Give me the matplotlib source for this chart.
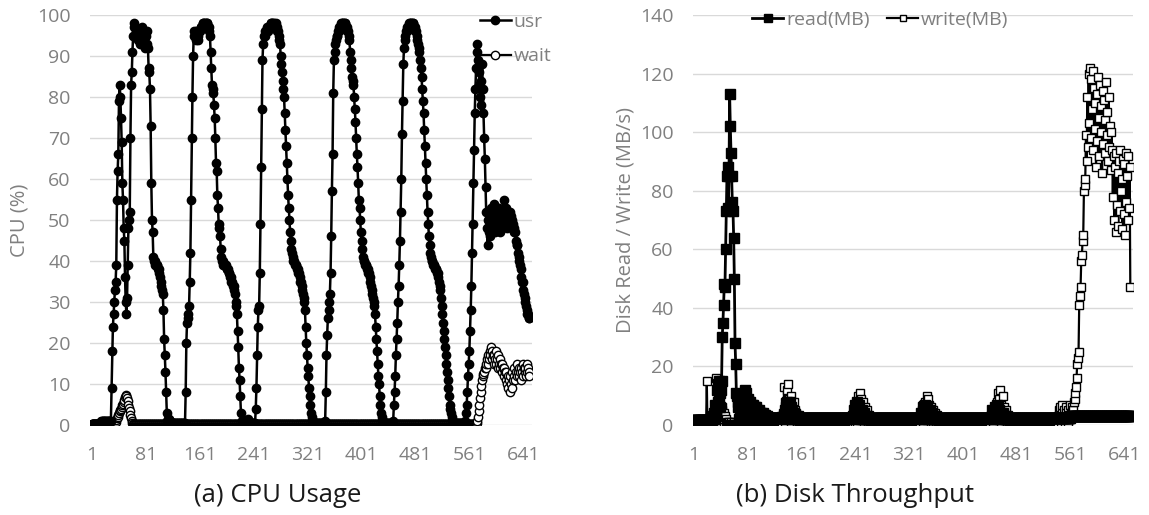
import matplotlib.pyplot as plt
import numpy as np

plt.rcParams['font.family'] = ['Open Sans', 'DejaVu Sans']

# ---- (a) CPU usage, one value per sample ----
usr = ([0.2] * 14 + [1.0] * 15
       + [9, 18, 24, 27, 30, 33, 35, 39, 55, 62, 66, 79, 83]
       + [80, 75, 69, 59, 55, 48, 45, 36, 30, 27]
       + [31, 39, 48, 50, 52, 70, 83, 86, 91, 95]
       + [98, 97, 97, 96, 95, 96, 94, 95, 96, 93, 95, 96, 97, 95, 96, 94, 92, 96, 95, 96, 93, 92]
       + [87, 86, 82, 73, 59, 50, 47, 41, 40]
       + [40, 39, 39, 39, 39, 38, 38, 37, 36, 35, 34, 33, 32, 28]
       + [21, 17, 13, 8, 3, 1]
       + [1.5, 1.5, 1.0, 1.0] + [0.5] * 22
       + [8, 20, 25, 26, 27, 29, 35, 42, 55, 70, 80, 90, 95, 96]
       + [95, 94, 96, 95, 94, 95, 96, 96, 97, 97, 97, 98, 98, 98, 98, 97, 98, 98, 98, 97, 97, 96, 95]
       + [91, 87, 83, 82, 81, 78, 75, 70, 64, 62, 56, 53, 49, 48, 46, 43, 41, 40, 40]
       + [39, 39, 39, 39, 39, 38, 38, 38, 37, 37, 36, 36, 35, 35, 34, 34, 33, 32, 30, 29, 27]
       + [23, 19, 14, 11, 7, 3, 1, 1]
       + [0.5] * 7 + [1.5, 1.0] + [0.5] * 10
       + [4, 9, 17, 24, 28, 29, 37, 49, 63, 77, 89, 93, 95]
       + [96, 95, 96, 96, 97, 96, 97, 97, 97, 98, 98, 98, 98, 97, 98, 97, 97, 98, 97, 96, 96, 95, 94, 93]
       + [90, 88, 86, 84, 82, 80, 76, 72, 68, 64, 60, 56, 53, 50, 47, 45, 43, 42, 41]
       + [40, 40, 39, 39, 39, 38, 38, 37, 37, 36, 35, 35, 34, 33, 32, 31, 30, 28]
       + [24, 20, 17, 14, 12, 9, 7, 5, 3, 2, 1, 1]
       + [0.5] * 17
       + [1, 8, 17, 22, 26, 28, 30, 32, 37, 46, 57, 66, 81, 89, 91]
       + [93, 94, 95, 95, 96, 96, 97, 97, 97, 98, 98, 98, 98, 97, 98, 98, 97, 97, 96, 96, 95, 94]
       + [91, 89, 87, 85, 84, 83, 80, 77, 74, 70, 66, 63, 59, 55, 53, 50, 47, 45, 43]
       + [41, 40, 40, 39, 39, 39, 38, 38, 37, 37, 36, 35, 34, 33, 32, 31, 30, 29, 27]
       + [24, 21, 18, 15, 12, 10, 7, 5, 3, 2, 1, 1]
       + [0.5] * 14
       + [1, 5, 8, 12, 17, 21, 25, 30, 34, 39, 45, 52, 60, 71, 79, 88]
       + [92, 94, 95, 96, 96, 97, 97, 97, 98, 98, 98, 98, 97, 98, 98, 97, 97, 96, 96, 95, 94, 93, 92, 91, 89]
       + [87, 85, 82, 79, 76, 72, 68, 64, 60, 56, 52, 49, 46, 44, 42, 41, 40, 40]
       + [39, 39, 39, 38, 38, 38, 37, 37, 36, 35, 34, 33, 31, 29, 27, 25]
       + [23, 21, 19, 17, 15, 13, 11, 9, 7, 5, 4, 3, 2, 1, 1]
       + [0.5] * 17
       + [1, 3, 5, 8, 12, 15, 18, 23, 28, 34, 42, 49, 59, 67, 76, 82, 87, 93]
       + [91, 89, 86, 83, 80, 78, 84, 88, 82, 76, 70, 65, 58, 52, 48]
       + [44, 50, 47, 52, 46, 53, 49, 51, 48, 54, 50, 47, 52, 49, 51, 48, 50, 53, 47, 51,
          49, 52, 48, 50, 55, 51, 49, 53, 50, 48, 52, 51, 49, 52, 50, 51, 48, 50, 49]
       + [48, 47, 47, 45, 44, 44, 42, 41, 40, 39, 38, 36, 35, 35, 33, 32, 31, 30, 29, 28, 27, 27, 26, 26])

wait = ([0.2] * 34
        + [0.4, 0.8, 1.2, 1.6, 2.0, 2.5, 3.0, 3.3, 3.6, 4.0, 4.4, 4.8, 5.2, 5.6, 6.2, 6.8, 7.3,
           7.0, 6.5, 5.8, 5.0, 4.2, 3.4, 2.5, 1.6, 0.9, 0.4]
        + [0.2] * 510
        + [0.5, 1, 2, 3.5, 5, 6.5, 8, 9.5, 11, 12, 12.5, 13, 14]
        + [14, 15, 16, 15, 17, 16, 18, 17, 19, 16, 18, 17, 15, 17, 16, 18, 15, 16, 14, 17,
           15, 16, 14, 15, 13, 15, 14, 12, 14, 13, 11, 13, 10, 12, 9, 11, 8, 12, 10, 13,
           9, 11, 12, 14, 11, 13, 12, 15, 13, 14, 12, 13, 11, 14, 13, 15, 12, 14, 13, 14,
           12, 15, 13, 14, 13, 12])

# ---- (b) Disk throughput (MB/s) ----
read_mb = ([1.8] * 28
           + [3, 2, 4, 7, 3, 5, 12, 8, 14, 15, 11, 6, 12]
           + [15, 30, 35, 41, 48, 47, 60, 73, 85, 88, 74, 85, 113, 102, 93, 85, 76, 73, 64, 50,
              28, 21, 11, 10, 8, 6]
           + [2, 5, 1, 7, 2, 9, 1, 10, 3, 12, 2, 11, 3, 9, 2, 8, 3, 8, 2, 7,
              3, 7, 2, 6, 3, 6, 2, 5, 3, 5, 2, 4, 3, 4, 2, 4, 3, 3.5, 2.5, 3.5, 2.5, 3, 2.5]
           + [2.5] * 24
           + [3, 5, 2, 6, 8, 4, 7, 3, 5, 8, 6, 3, 5, 2, 4, 3, 2, 3, 2.5, 2, 3, 2, 2.5, 2, 2.5, 2]
           + [2.5] * 77
           + [3, 5, 2, 7, 4, 8, 3, 6, 5, 7, 3, 4, 2, 5, 3, 2, 4, 2, 3, 2, 2.5, 2, 3, 2, 2.5, 2, 2.5, 2]
           + [2.5] * 72
           + [2, 4, 3, 6, 2, 5, 7, 3, 5, 4, 6, 2, 4, 3, 5, 2, 3, 4, 2, 3,
              2, 2.5, 2, 3, 2, 2.5, 2, 2.5, 2, 2.5]
           + [2.5] * 75
           + [2, 3, 5, 2, 4, 6, 3, 5, 7, 4, 6, 3, 5, 2, 4, 3, 2, 4, 2, 3,
              2, 2.5, 2, 3, 2, 2.5, 2, 2.5, 2, 2.5]
           + [2.5] * 88
           + [3.0] * 90)

write_mb = ([0.5] * 19
            + [15, 0.5, 1, 0.5, 2, 0.5, 1, 0.5, 0.5]
            + [3, 1, 2, 5, 1, 16, 4, 10, 6, 3, 8, 5, 2]
            + [6, 5, 3, 4, 2, 3, 1, 2, 1, 1, 0.5, 1, 0.5, 0.5, 1, 0.5, 0.5, 0.5, 1, 0.5,
               0.5, 0.5, 0.5, 0.5, 0.5, 0.5]
            + [0.5] * 62
            + [1, 3, 0.5, 4, 2, 13, 1, 8, 3, 12, 5, 14, 2, 9, 4, 10, 1, 6, 3, 8,
               2, 5, 3, 4, 1, 3, 2, 0.5, 1, 0.5, 0.5]
            + [0.5] * 77
            + [1, 3, 0.5, 6, 2, 8, 1, 10, 4, 7, 11, 3, 9, 2, 5, 8, 1, 4, 6, 2,
               3, 5, 1, 2, 3, 1, 2, 0.5, 1, 0.5, 0.5]
            + [0.5] * 66
            + [1, 2, 0.5, 4, 2, 5, 1, 7, 3, 6, 8, 2, 10, 4, 9, 3, 7, 5, 2, 6,
               4, 1, 5, 3, 2, 4, 1, 2, 3, 1, 0.5, 1, 0.5, 0.5]
            + [0.5] * 72
            + [1, 0.5, 3, 2, 5, 1, 4, 6, 2, 5, 8, 3, 11, 4, 9, 12, 2, 7, 5, 10,
               3, 6, 2, 4, 5, 1, 3, 2, 1, 2, 0.5, 1, 0.5, 0.5]
            + [0.5] * 66
            + [1, 3, 0.5, 5, 2, 6, 1, 4, 7, 2, 5, 3, 1, 6, 4, 2, 5, 1, 3, 7, 2, 4, 6, 3, 5, 8]
            + [9, 11, 13, 16, 21, 23, 25, 41, 44, 47, 56, 58, 63, 65, 80, 82]
            + [84, 99, 90, 112, 95, 120, 103, 122, 98, 118, 108, 121, 94, 115, 101, 110, 88, 113, 97, 119,
               105, 92, 116, 100, 109, 86, 114, 96, 111, 104, 93, 117, 99, 107, 90, 112, 95, 102, 87, 100]
            + [94, 78, 92, 70, 88, 66, 93, 75, 86, 68, 90, 73, 94, 80, 84, 67, 91, 72, 89, 65,
               93, 76, 85, 70, 92, 74, 88]
            + [47])

xticks = [1, 81, 161, 241, 321, 401, 481, 561, 641]
gray = '#808080'
grid_c = '#d9d9d9'

fig = plt.figure(figsize=(11.49, 5.15), dpi=100)
ax1 = fig.add_axes([90 / 1149, 90 / 515, 442 / 1149, 410 / 515])
ax2 = fig.add_axes([693 / 1149, 90 / 515, 440 / 1149, 410 / 515])


def style(ax, ymax, ystep, xlim):
    for s in ax.spines.values():
        s.set_visible(False)
    ax.set_ylim(0, ymax)
    ax.set_yticks(np.arange(0, ymax + 1, ystep))
    ax.set_xlim(*xlim)
    ax.set_xticks(xticks)
    ax.grid(axis='y', color=grid_c, linewidth=1)
    ax.set_axisbelow(True)
    ax.tick_params(length=0, labelsize=14, labelcolor=gray)
    ax.tick_params(axis='y', pad=14)
    ax.tick_params(axis='x', pad=15)


x1 = np.arange(1, len(usr) + 1)
ax1.plot(np.arange(1, len(wait) + 1), wait, color='black', lw=1.6, marker='o', ms=6,
         mfc='white', mec='black', mew=1.0, label='wait', zorder=2)
ax1.plot(x1, usr, color='black', lw=1.8, marker='o', ms=6, mfc='black', mec='black',
         label='usr', zorder=3)
style(ax1, 100, 10, (-2, 654))
ax1.set_ylabel('CPU (%)', color=gray, fontsize=14.5, labelpad=5)
h, l = ax1.get_legend_handles_labels()
ax1.legend(h[::-1], l[::-1], loc='upper left', bbox_to_anchor=(0.882, 1.005), frameon=False,
           fontsize=14, labelcolor=gray, handlelength=1.6, handletextpad=0.15,
           labelspacing=0.85, borderaxespad=0, borderpad=0)

x2 = np.arange(1, len(read_mb) + 1)
ax2.plot(np.arange(1, len(write_mb) + 1), write_mb, color='black', lw=1.6, marker='s', ms=5.5,
         mfc='white', mec='black', mew=1.0, label='write(MB)', zorder=2)
ax2.plot(x2, read_mb, color='black', lw=2.0, marker='s', ms=6.5, mfc='black', mec='black',
         label='read(MB)', zorder=3)
style(ax2, 140, 20, (-0.5, 654))
ax2.set_ylabel('Disk Read / Write (MB/s)', color=gray, fontsize=14.5, labelpad=3)
h, l = ax2.get_legend_handles_labels()
ax2.legend(h[::-1], l[::-1], loc='upper left', bbox_to_anchor=(0.134, 1.01), ncol=2,
           frameon=False, fontsize=14, labelcolor=gray, handlelength=1.6,
           handletextpad=0.15, columnspacing=0.9, borderaxespad=0, borderpad=0,
           markerscale=0.85)

fig.text(278 / 1149, 1 - 496 / 515, '(a) CPU Usage', ha='center', va='center',
         fontsize=18.5, color='#1a1a1a')
fig.text(855 / 1149, 1 - 496 / 515, '(b) Disk Throughput', ha='center', va='center',
         fontsize=18.5, color='#1a1a1a')

fig.savefig('out.png', dpi=100)
